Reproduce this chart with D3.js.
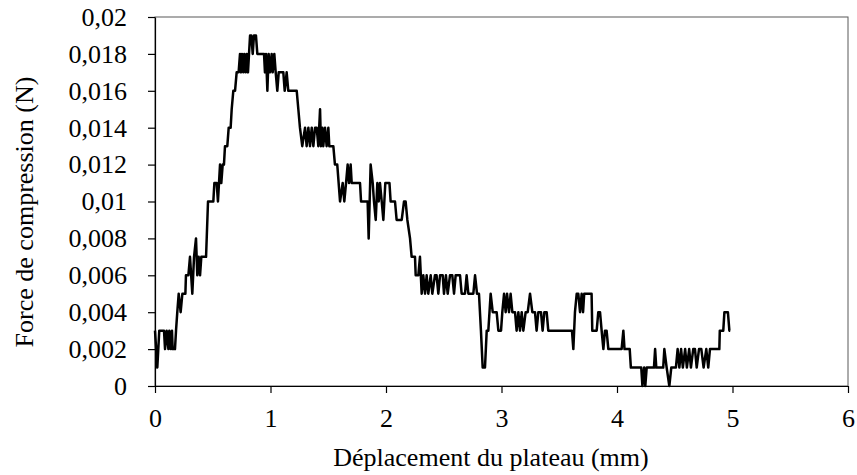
<!DOCTYPE html>
<html>
<head>
<meta charset="utf-8">
<script src="https://cdn.jsdelivr.net/npm/d3@7/dist/d3.min.js"></script>
<style>
  html, body { margin: 0; padding: 0; background: #fff; }
  svg { display: block; }
  text { font-family: "Liberation Serif", "Times New Roman", serif; fill: #000; }
</style>
</head>
<body>
<svg id="chart" width="857" height="475"></svg>
<script>
// Displacement (mm)
const displacement = [
  0.000,0.020,0.037,0.078,0.087,0.101,0.116,0.124,0.136,0.147,
  0.153,0.173,0.182,0.193,0.205,0.222,0.237,0.263,0.268,0.289,
  0.303,0.323,0.338,0.355,0.366,0.378,0.390,0.401,0.442,0.459,
  0.505,0.514,0.534,0.545,0.563,0.574,0.586,0.597,0.606,
  0.626,0.638,0.655,0.664,0.678,0.693,0.707,0.724,0.736,0.745,
  0.753,0.765,0.773,0.785,0.794,0.805,0.814,0.823,0.834,0.846,
  0.857,0.874,0.886,0.944,0.952,0.961,0.973,0.984,0.996,1.010,
  1.019,1.033,1.045,1.059,1.071,1.111,1.123,1.140,1.154,1.227,
  1.241,1.255,1.275,1.299,1.313,1.328,1.342,1.357,1.371,1.386,
  1.400,1.414,1.429,1.437,1.449,1.457,1.472,1.486,1.501,1.509,
  1.544,1.558,1.578,1.602,1.625,1.639,1.654,1.668,1.680,1.694,
  1.703,1.775,1.784,1.841,1.850,1.867,1.885,1.896,1.911,1.925,
  1.937,1.948,1.963,1.977,1.994,2.030,2.040,2.078,2.092,2.136,
  2.156,2.170,2.185,2.208,2.222,2.251,2.257,2.280,2.294,2.309,
  2.323,2.338,2.352,2.366,2.387,2.401,2.424,2.438,2.453,2.468,
  2.491,2.502,2.519,2.534,2.554,2.574,2.589,2.603,2.641,2.655,
  2.684,2.698,2.713,2.727,2.756,2.771,2.788,2.805,2.822,2.837,
  2.857,2.872,2.886,2.906,2.924,2.958,2.973,2.996,3.007,3.022,
  3.036,3.048,3.065,3.079,3.094,3.117,3.131,3.146,3.160,3.175,
  3.189,3.209,3.227,3.247,3.267,3.290,3.304,3.319,3.342,3.356,
  3.371,3.391,3.405,3.610,
  3.622,3.636,3.651,3.665,3.680,3.694,3.706,3.716,3.780,3.786,
  3.824,3.838,3.853,3.867,3.882,3.896,3.910,3.925,3.954,4.040,
  4.055,4.065,4.110,4.120,4.210,4.220,4.235,4.245,4.257,4.320,
  4.330,4.340,4.400,4.410,4.430,4.453,4.470,4.510,4.525,4.540,
  4.555,4.570,4.590,4.605,4.625,4.640,4.660,4.675,4.690,4.710,
  4.730,4.750,4.773,4.790,4.805,4.886,4.890,4.920,4.930,4.960,
  4.973,4.980
];

// Compression force (N)
const force = [
  0.003,0.001,0.003,0.003,0.002,0.003,0.002,0.003,0.002,0.003,
  0.002,0.002,0.003,0.004,0.005,0.004,0.005,0.005,0.006,0.006,
  0.007,0.005,0.007,0.008,0.006,0.007,0.006,0.007,0.007,0.010,
  0.010,0.011,0.011,0.010,0.012,0.011,0.012,0.012,0.013,
  0.013,0.014,0.014,0.015,0.016,0.016,0.017,0.017,0.018,0.017,
  0.018,0.017,0.018,0.017,0.018,0.017,0.018,0.019,0.019,0.018,
  0.019,0.019,0.018,0.018,0.017,0.018,0.016,0.018,0.017,0.018,
  0.017,0.018,0.017,0.016,0.017,0.017,0.016,0.017,0.016,0.016,
  0.015,0.014,0.013,0.014,0.013,0.014,0.013,0.014,0.013,0.014,
  0.014,0.013,0.015,0.013,0.014,0.013,0.014,0.013,0.014,0.013,
  0.013,0.012,0.012,0.010,0.011,0.010,0.011,0.012,0.011,0.012,
  0.011,0.011,0.010,0.010,0.008,0.012,0.011,0.010,0.009,0.011,
  0.010,0.011,0.010,0.009,0.011,0.011,0.010,0.010,0.009,0.009,
  0.010,0.010,0.009,0.008,0.007,0.007,0.006,0.006,0.007,0.005,
  0.006,0.005,0.006,0.005,0.006,0.005,0.006,0.006,0.005,0.006,
  0.006,0.005,0.006,0.005,0.006,0.006,0.005,0.006,0.006,0.005,
  0.005,0.006,0.005,0.005,0.005,0.006,0.005,0.005,0.003,0.001,
  0.001,0.003,0.003,0.005,0.004,0.004,0.003,0.003,0.004,0.005,
  0.004,0.005,0.004,0.005,0.004,0.004,0.003,0.004,0.003,0.004,
  0.003,0.004,0.004,0.005,0.004,0.004,0.003,0.004,0.004,0.003,
  0.004,0.004,0.003,0.003,
  0.002,0.004,0.005,0.005,0.004,0.005,0.004,0.005,0.005,0.003,
  0.003,0.004,0.004,0.003,0.002,0.003,0.003,0.002,0.002,0.002,
  0.003,0.002,0.002,0.001,0.001,0.000,0.001,0.000,0.001,0.001,
  0.002,0.001,0.001,0.002,0.001,0.000,0.001,0.001,0.002,0.001,
  0.002,0.001,0.002,0.001,0.002,0.001,0.002,0.002,0.001,0.002,
  0.002,0.001,0.002,0.001,0.002,0.002,0.003,0.003,0.004,0.004,
  0.003,0.003
];

const xTicks = [0, 1, 2, 3, 4, 5, 6];
const xTickLabels = ["0", "1", "2", "3", "4", "5", "6"];
const yTicks = [0, 0.002, 0.004, 0.006, 0.008, 0.01, 0.012, 0.014, 0.016, 0.018, 0.02];
const yTickLabels = ["0", "0,002", "0,004", "0,006", "0,008", "0,01", "0,012", "0,014", "0,016", "0,018", "0,02"];
const xTitle = "Déplacement du plateau (mm)";
const yTitle = "Force de compression (N)";

const svg = d3.select("#chart");
const plot = { left: 155, top: 17, right: 848, bottom: 386 };

const x = d3.scaleLinear().domain([0, 6]).range([plot.left, plot.right]);
const y = d3.scaleLinear().domain([0, 0.02]).range([plot.bottom, plot.top]);

// Plot frame
svg.append("rect")
  .attr("x", plot.left).attr("y", plot.top)
  .attr("width", plot.right - plot.left).attr("height", plot.bottom - plot.top)
  .attr("fill", "none").attr("stroke", "#595959").attr("stroke-width", 1);

// X axis
const xAxis = d3.axisBottom(x)
  .tickValues(xTicks)
  .tickFormat((d, i) => xTickLabels[i])
  .tickSizeInner(7).tickSizeOuter(0).tickPadding(16);
const gx = svg.append("g").attr("transform", `translate(0,${plot.bottom})`).call(xAxis);
gx.select(".domain").attr("stroke", "#000").attr("stroke-width", 1.2);
gx.selectAll(".tick line").attr("stroke", "#000").attr("stroke-width", 1.2);
gx.selectAll(".tick text").attr("font-size", 26).attr("font-family", "Liberation Serif");

// Y axis
const yAxis = d3.axisLeft(y)
  .tickValues(yTicks)
  .tickFormat((d, i) => yTickLabels[i])
  .tickSizeInner(7).tickSizeOuter(0).tickPadding(21);
const gy = svg.append("g").attr("transform", `translate(${plot.left},0)`).call(yAxis);
gy.select(".domain").attr("stroke", "#000").attr("stroke-width", 1.2);
gy.selectAll(".tick line").attr("stroke", "#000").attr("stroke-width", 1.2);
gy.selectAll(".tick text").attr("font-size", 26).attr("font-family", "Liberation Serif");

// Line
const pts = displacement.map((d, i) => [d, force[i]]);
const line = d3.line().x(d => x(d[0])).y(d => y(d[1]));
svg.append("path")
  .datum(pts)
  .attr("d", line)
  .attr("fill", "none")
  .attr("stroke", "#000")
  .attr("stroke-width", 2.5)
  .attr("stroke-linejoin", "round");

// Titles
svg.append("text")
  .attr("x", 491)
  .attr("y", 466)
  .attr("text-anchor", "middle")
  .attr("font-size", 26)
  .text(xTitle);

svg.append("text")
  .attr("transform", `translate(33,212) rotate(-90)`)
  .attr("text-anchor", "middle")
  .attr("font-size", 26)
  .text(yTitle);
</script>
</body>
</html>
